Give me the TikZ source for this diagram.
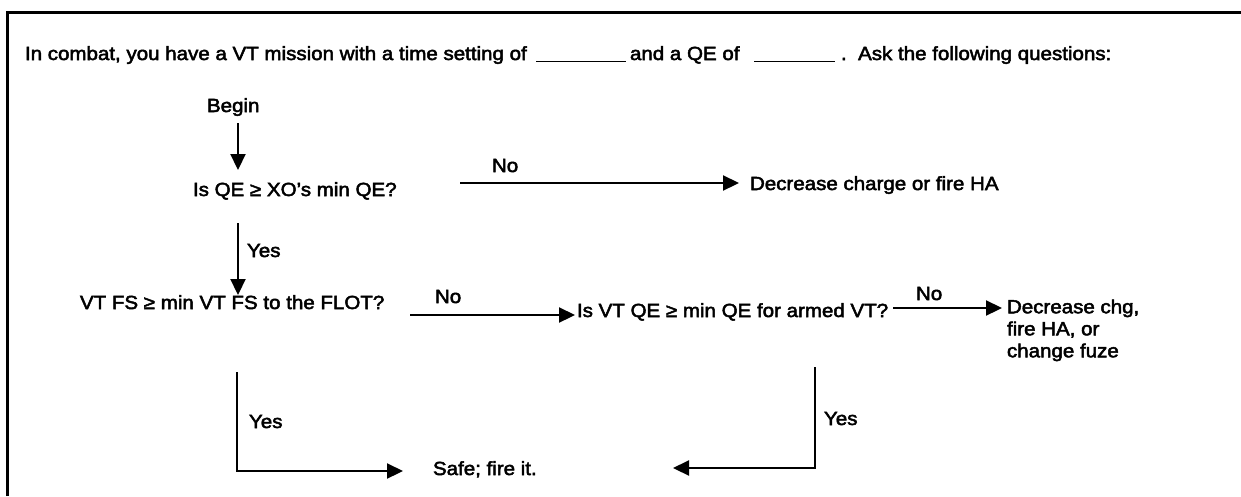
\documentclass[tikz,border=0pt]{standalone}
\usepackage{fontspec}
\setmainfont{Liberation Sans}[FakeStretch=1.08,FakeBold=2.6]
\usetikzlibrary{arrows.meta}
\newcommand{\dgfont}{\fontsize{19pt}{22pt}\selectfont}
\tikzset{
  txt/.style={inner sep=0pt, outer sep=0pt, anchor=base west, font=\dgfont},
  conn/.style={line width=2.2pt, -{Triangle[length=16pt,width=15pt]}},
  blankline/.style={line width=1.8pt},
  framepart/.style={line width=3pt, line join=miter}
}
\begin{document}
\begin{tikzpicture}[x=1pt,y=-1pt]
\useasboundingbox (0,0) rectangle (1241,496);
% frame (only top and left edges visible)
\draw[framepart] (7,496) -- (7,12) -- (1241,12);

% heading
\node[txt] (h1) at (25,60) {In combat, you have a VT mission with a time setting of};
\coordinate (b1s) at (536,61.5); \coordinate (b1e) at (626,61.5);
\draw[blankline] (b1s) -- (b1e);
\node[txt] (h2) at (630,60) {and a QE of};
\coordinate (b2s) at (754,61.5); \coordinate (b2e) at (835,61.5);
\draw[blankline] (b2s) -- (b2e);
\node[txt] (h3) at (841,60) {.\ \ Ask the following questions:};

% nodes
\node[txt] (begin) at (207,112) {Begin};
\node[txt] (q1) at (193,196) {Is QE ≥ XO’s min QE?};
\node[txt] (no1) at (492,172) {No};
\node[txt] (dec1) at (750,190) {Decrease charge or fire HA};
\node[txt] (yes1) at (247,257) {Yes};
\node[txt] (q2) at (80,309) {VT FS ≥ min VT FS to the FLOT?};
\node[txt] (no2) at (435,303) {No};
\node[txt] (q3) at (577,317) {Is VT QE ≥ min QE for armed VT?};
\node[txt] (no3) at (916,300) {No};
\node[inner sep=0pt, outer sep=0pt, anchor=north west, font=\dgfont, align=left] (dec2) at (1007,299.5) {Decrease chg,\\fire HA, or\\change fuze};
\node[txt] (yes2) at (249,428) {Yes};
\node[txt] (safe) at (433,475) {Safe; fire it.};
\node[txt] (yes3) at (824,425) {Yes};

% connector end points
\coordinate (c1a) at (238,123); \coordinate (c1b) at (238,170);
\coordinate (c2a) at (460,183); \coordinate (c2b) at (739,183);
\coordinate (c3a) at (238,223); \coordinate (c3b) at (238,295);
\coordinate (c4a) at (410,315); \coordinate (c4b) at (575,315);
\coordinate (c5a) at (893,308); \coordinate (c5b) at (1002,308);
\coordinate (c6a) at (237,372); \coordinate (c6m) at (237,471); \coordinate (c6b) at (403,471);
\coordinate (c7a) at (815,367); \coordinate (c7m) at (815,468); \coordinate (c7b) at (673,468);

% connectors
\draw[conn] (c1a) -- (c1b);
\draw[conn] (c2a) -- (c2b);
\draw[conn] (c3a) -- (c3b);
\draw[conn] (c4a) -- (c4b);
\draw[conn] (c5a) -- (c5b);
\draw[conn] (c6a) -- (c6m) -- (c6b);
\draw[conn] (c7a) -- (c7m) -- (c7b);
\end{tikzpicture}
\end{document}
